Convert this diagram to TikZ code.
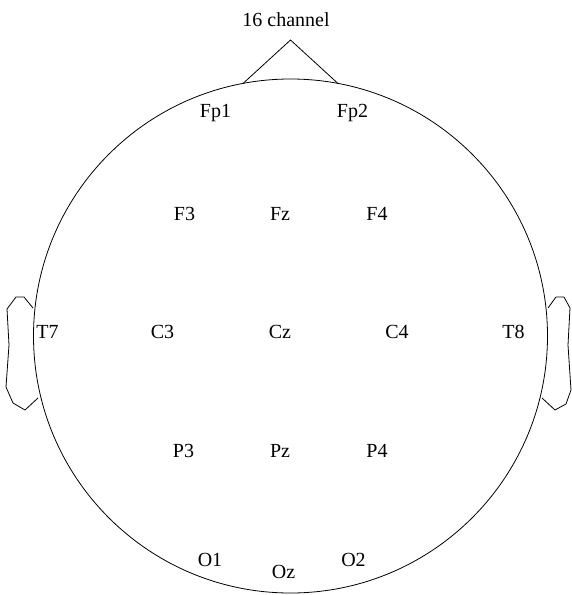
\documentclass[tikz,border=0pt]{standalone}
\usepackage{fontspec}
\setmainfont{Liberation Serif}
\begin{document}
\begin{tikzpicture}[x=1pt,y=-1pt,
  outline/.style={draw=black,line width=0.8pt,line join=round},
  electrode/.style={font=\fontsize{20}{20}\selectfont,inner sep=0pt,anchor=base}]
\useasboundingbox (0,0) rectangle (572,595);
% head
\node[outline,circle,minimum size=514pt,inner sep=0pt] (head) at (290.5,336) {};
% nose
\coordinate (noseL) at (243,83.5);
\coordinate (noseR) at (338,83.5);
\coordinate (noseTip) at (290.5,40);
\draw[outline] (noseL) -- (noseTip) -- (noseR);
\node[electrode] (title) at (286,26) {16 channel};
% ears
\draw[outline] (33,308) -- (24,297) -- (16,297) -- (7,309) -- (9,345) -- (6,387)
  -- (13,403) -- (25,410) -- (38,398);
\draw[outline] (548,308) -- (556,297) -- (564,297) -- (570,308) -- (568,345)
  -- (571,390) -- (566,404) -- (555,410) -- (542,398);
% electrodes
\node[electrode] (Fp1) at (215.5,117) {Fp1};
\node[electrode] (Fp2) at (352.5,117) {Fp2};
\node[electrode] (F3) at (184.5,220) {F3};
\node[electrode] (Fz) at (280,220) {Fz};
\node[electrode] (F4) at (377,220) {F4};
\node[electrode] (T7) at (47.5,338) {T7};
\node[electrode] (C3) at (162.5,338) {C3};
\node[electrode] (Cz) at (280,338) {Cz};
\node[electrode] (C4) at (397,338) {C4};
\node[electrode] (T8) at (513.5,338) {T8};
\node[electrode] (P3) at (183.5,457) {P3};
\node[electrode] (Pz) at (280,457) {Pz};
\node[electrode] (P4) at (377,457) {P4};
\node[electrode] (O1) at (210,566) {O1};
\node[electrode] (Oz) at (283.5,578) {Oz};
\node[electrode] (O2) at (353.5,566) {O2};
\end{tikzpicture}
\end{document}
